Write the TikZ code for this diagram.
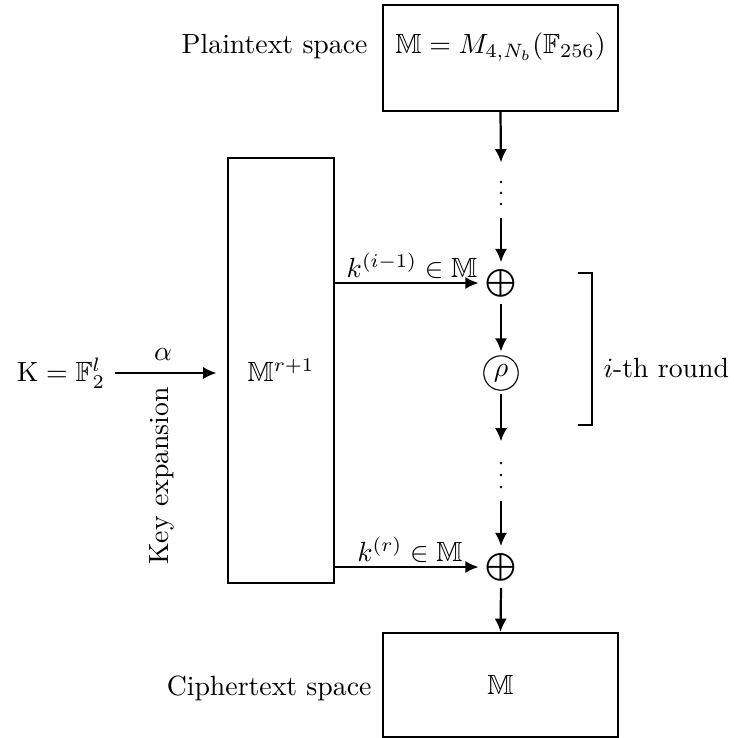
\documentclass[tikz,border=0pt]{standalone}
\usepackage{amsmath,amssymb}
\usetikzlibrary{arrows.meta,calc}
\begin{document}
\begin{tikzpicture}[x=0.36pt,y=-0.36pt,
  box/.style={draw,thick,inner sep=0pt},
  conn/.style={thick,-{Latex[length=4.8pt,width=4.4pt]}},
  xor/.style={inner sep=0pt,outer sep=2.5pt},
  dotsnode/.style={inner sep=0pt,minimum width=4pt},
  rhonode/.style={draw,circle,inner sep=0pt,minimum size=12.4pt,outer sep=1.5pt}]
\useasboundingbox (0,0) rectangle (734,738);
% boxes
\node[box,minimum width=84.6pt,minimum height=38.2pt] (pt) at (500.5,58) {};
\node (ptt) at (500.5,47) {$\mathbb{M} = M_{4,N_b}(\mathbb{F}_{256})$};
\node[anchor=east,inner sep=0pt] (ptl) at (368,47) {Plaintext space};
\node[box,minimum width=38.2pt,minimum height=153pt] (mb) at (281,370.5) {$\mathbb{M}^{r+1}$};
\node[box,minimum width=84.6pt,minimum height=37.4pt] (ct) at (500.5,685) {$\mathbb{M}$};
\node[anchor=east,inner sep=0pt] (ctl) at (372,688) {Ciphertext space};
% chain
\node[dotsnode,minimum height=19.4pt] (d1) at (501,190) {};
\foreach \dy in {-8,3,14} \fill ($(d1.center)+(0,\dy)$) circle[radius=0.5pt];
\node[xor] (o1) at (501,283) {$\bigoplus$};
\node[rhonode] (rho) at (501,373) {$\rho$};
\node[dotsnode,minimum height=20.9pt] (d2) at (501,471) {};
\foreach \dy in {-8,4,16} \fill ($(d2.center)+(0,\dy)$) circle[radius=0.5pt];
\node[xor] (o2) at (501,567) {$\bigoplus$};
\draw[conn] (pt.south) -- (d1.north);
\draw[conn] (d1.south) -- (o1.north);
\draw[conn] (o1.south) -- (rho.north);
\draw[conn] (rho.south) -- (d2.north);
\draw[conn] (d2.south) -- (o2.north);
\draw[conn] (o2.south) -- (ct.north);
% keys
\draw[conn] (mb.east |- o1) -- (o1.west);
\node (k1) at (412,266) {$k^{(i-1)} \in \mathbb{M}$};
\draw[conn] (mb.east |- o2) -- (o2.west);
\node (k2) at (410,550) {$k^{(r)} \in \mathbb{M}$};
% key expansion
\node (K) at (61,373) {$\mathrm{K} = \mathbb{F}_2^l$};
\draw[conn,shorten >=3.7pt] (K.east) -- (K.east -| mb.west);
\node (al) at (163,355) {$\alpha$};
\node[rotate=90] (ke) at (162,476) {Key expansion};
% round bracket
\coordinate (bt) at (578,273);
\coordinate (bb) at (578,425);
\draw[thick] (bt) -- ++(14,0) |- (bb);
\node[anchor=west,inner sep=0pt] (rl) at (603,368) {$i$-th round};
\end{tikzpicture}
\end{document}
